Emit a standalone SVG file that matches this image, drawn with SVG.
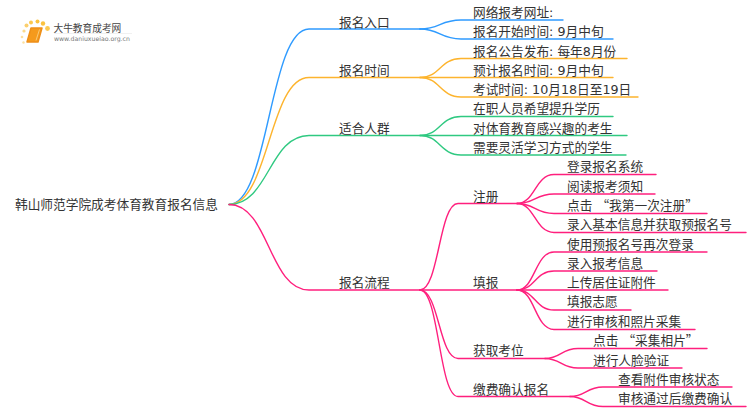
<svg xmlns="http://www.w3.org/2000/svg" width="750" height="410" viewBox="0 0 750 410">
<style>
text{font-family:"DejaVu Sans","Noto Sans CJK SC",sans-serif;font-size:12.7px;fill:#333}
.q{font-family:"Noto Sans CJK SC",sans-serif}
.c{fill:none;stroke-width:1.4;stroke-linecap:round}
.b{stroke:#2f9bff}.o{stroke:#fdb42e}.g{stroke:#2fc981}.p{stroke:#ff1f7d}
</style>
<rect width="750" height="410" fill="#fff"/>
<g id="logo">
<circle cx="24" cy="31" r="1.6" fill="#fbd98a"/><circle cx="26.500" cy="25.500" r="2" fill="#fbcf6e"/><circle cx="31" cy="22.500" r="2" fill="#fbc850"/><circle cx="37.500" cy="21.500" r="2" fill="#fbc23f"/><circle cx="43" cy="23.500" r="2.200" fill="#fbc23f"/><circle cx="47.500" cy="28.500" r="2.400" fill="#fbc850"/><circle cx="22" cy="37" r="1.300" fill="#fbe0a0"/><circle cx="23.500" cy="42.500" r="1.200" fill="#fbe0a0"/>
<path d="M31 28H42L38 42H27Z" fill="#f59a1c" stroke="#ee8f18" stroke-width="1.500" stroke-linejoin="round"/>
<path d="M39.500 29.500L36 40.500" fill="none" stroke="#fbd58a" stroke-width="0.800"/>
<text x="53.500" y="31.500" style="font-size:9.700px;fill:#444">大牛教育成考网</text>
<text x="54" y="41" style="font-size:6.200px;fill:#777">www.daniuxueiao.org.cn</text>
<path d="M54 33.500H132" fill="none" stroke="#eee" stroke-width="0.800"/>
</g>
<g id="connectors">
<path class="c b" d="M229 204.500C269 204.500 269 29 309 29H420"/>
<path class="c o" d="M229 204.500C269 204.500 269 77.500 309 77.500H420"/>
<path class="c g" d="M229 204.500C269 204.500 269 135.500 309 135.500H420"/>
<path class="c p" d="M229 204.500C269 204.500 269 290 309 290H420"/>
<path class="c b" d="M420 29C440 29 440 20 461 20H563"/>
<path class="c b" d="M420 29C440 29 440 39 461 39H613"/>
<path class="c o" d="M420 77.500C440 77.500 440 58.500 461 58.500H627"/>
<path class="c o" d="M420 77.500H613"/>
<path class="c o" d="M420 77.500C440 77.500 440 97 461 97H638"/>
<path class="c g" d="M420 135.500C440 135.500 440 116.500 461 116.500H613"/>
<path class="c g" d="M420 135.500H627"/>
<path class="c g" d="M420 135.500C440 135.500 440 155 461 155H626"/>
<path class="c p" d="M420 290C439 290 439 203.500 458 203.500H517"/>
<path class="c p" d="M420 290H517"/>
<path class="c p" d="M420 290C439 290 439 358.500 458 358.500H545"/>
<path class="c p" d="M420 290C439 290 439 396.500 458 396.500H570"/>
<path class="c p" d="M517 203.500C535 203.500 535 174.500 554 174.500H656"/>
<path class="c p" d="M517 203.500C535 203.500 535 194 554 194H655"/>
<path class="c p" d="M517 203.500C535 203.500 535 213.500 554 213.500H707"/>
<path class="c p" d="M517 203.500C535 203.500 535 232.500 554 232.500H746"/>
<path class="c p" d="M517 290C535 290 535 252 554 252H707"/>
<path class="c p" d="M517 290C535 290 535 271 554 271H657"/>
<path class="c p" d="M517 290H668"/>
<path class="c p" d="M517 290C535 290 535 310 554 310H631"/>
<path class="c p" d="M517 290C535 290 535 329.500 554 329.500H695"/>
<path class="c p" d="M545 358.500C561 358.500 561 348.500 578 348.500H707"/>
<path class="c p" d="M545 358.500C561 358.500 561 368 578 368H682"/>
<path class="c p" d="M570 396.500C586 396.500 586 387 603 387H732"/>
<path class="c p" d="M570 396.500C586 396.500 586 406.500 603 406.500H746"/>
</g>
<g id="root"><text x="15" y="209">韩山师范学院成考体育教育报名信息</text></g>
<g id="n1"><text x="339" y="26.500">报名入口</text></g>
<g id="n2"><text x="339" y="74.500">报名时间</text></g>
<g id="n3"><text x="339" y="132.500">适合人群</text></g>
<g id="n4"><text x="339" y="287">报名流程</text></g>
<g id="l1"><text x="473" y="16.500">网络报考网址:</text></g>
<g id="l2"><text x="473" y="36">报名开始时间: 9月中旬</text></g>
<g id="l3"><text x="473" y="55.500">报名公告发布: 每年8月份</text></g>
<g id="l4"><text x="473" y="74.500">预计报名时间: 9月中旬</text></g>
<g id="l5"><text x="473" y="94">考试时间: 10月18日至19日</text></g>
<g id="l6"><text x="473" y="113">在职人员希望提升学历</text></g>
<g id="l7"><text x="473" y="132.500">对体育教育感兴趣的考生</text></g>
<g id="l8"><text x="473" y="152">需要灵活学习方式的学生</text></g>
<g id="n41"><text x="473" y="200.500">注册</text></g>
<g id="n42"><text x="473" y="287">填报</text></g>
<g id="n43"><text x="473" y="355">获取考位</text></g>
<g id="n44"><text x="473" y="393.500">缴费确认报名</text></g>
<g id="a1"><text x="567" y="171">登录报名系统</text></g>
<g id="a2"><text x="567" y="190.500">阅读报考须知</text></g>
<g id="a3"><text x="567" y="210">点击 <tspan class="q">“</tspan>我第一次注册<tspan class="q">”</tspan></text></g>
<g id="a4"><text x="567" y="229">录入基本信息并获取预报名号</text></g>
<g id="b1"><text x="567" y="248.500">使用预报名号再次登录</text></g>
<g id="b2"><text x="567" y="268">录入报考信息</text></g>
<g id="b3"><text x="567" y="287">上传居住证附件</text></g>
<g id="b4"><text x="567" y="306">填报志愿</text></g>
<g id="b5"><text x="567" y="326">进行审核和照片采集</text></g>
<g id="c1"><text x="593" y="345">点击 <tspan class="q">“</tspan>采集相片<tspan class="q">”</tspan></text></g>
<g id="c2"><text x="593" y="364.500">进行人脸验证</text></g>
<g id="d1"><text x="618" y="384">查看附件审核状态</text></g>
<g id="d2"><text x="618" y="403">审核通过后缴费确认</text></g>
</svg>
